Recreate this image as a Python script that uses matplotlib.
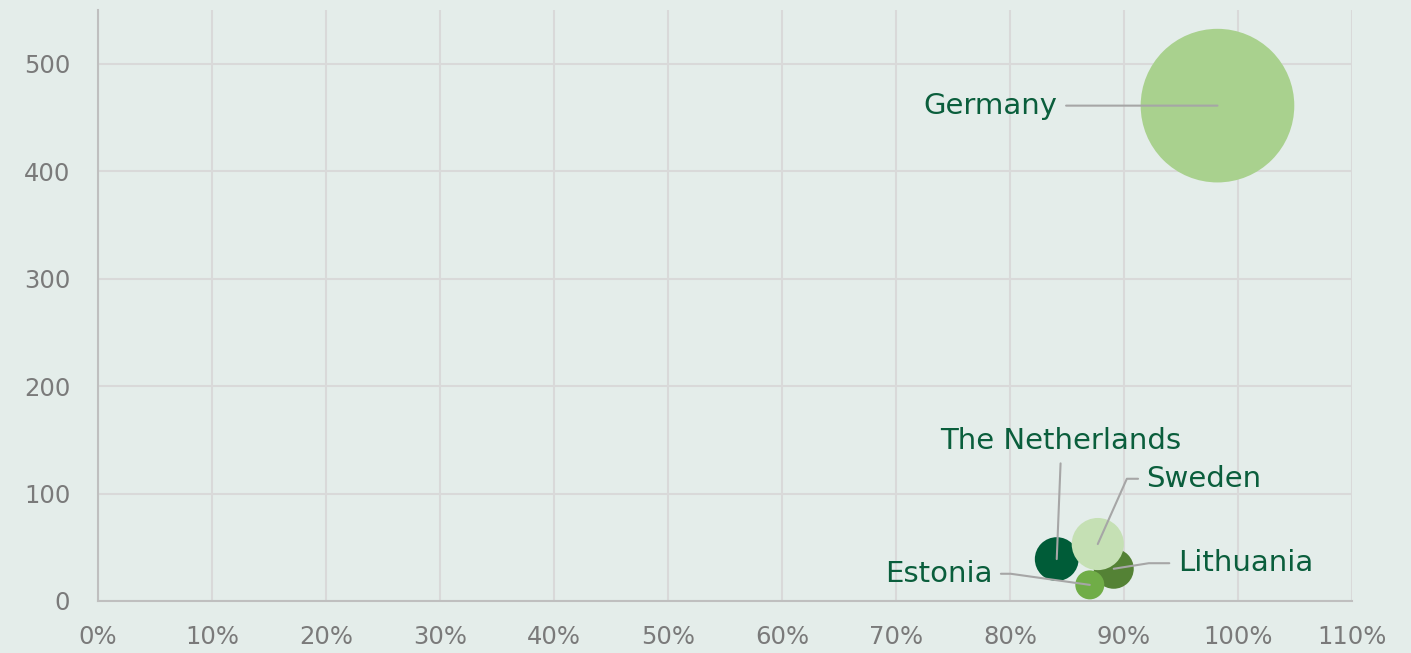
import matplotlib
matplotlib.use("Agg")
import matplotlib.pyplot as plt
from matplotlib.ticker import PercentFormatter

# data (listed in drawing order)
countries = ["Germany", "The Netherlands", "Lithuania", "Estonia", "Sweden"]
share = [98.2, 84.1, 89.1, 87.0, 87.7]        # x, percent
value = [461, 39, 30, 15, 53]                  # y
bubble_size = [5900, 480, 400, 210, 680]       # bubble area (relative)
colors = ["#A9D18E", "#005C38", "#548235", "#70AD47", "#C5E0B4"]

x_ticks = list(range(0, 111, 10))
y_ticks = [0, 100, 200, 300, 400, 500]

bg = "#E4EDEA"
label_col = "#0A5E3C"
tick_col = "#7A7A7A"
line_col = "#A6A6A6"


def main():
    plt.rcParams["font.family"] = ["DejaVu Sans"]
    fig = plt.figure(figsize=(14.11, 6.53), dpi=100, facecolor=bg)
    ax = fig.add_axes([98 / 1411, 52 / 653, (1352 - 98) / 1411, (601 - 10) / 653])
    ax.set_facecolor(bg)

    # area in points^2 ~ (2 * radius_px * 0.72)^2
    s = [b * (2 * 0.72) ** 2 for b in bubble_size]
    ax.scatter(share, value, s=s, c=colors, edgecolors="none", zorder=3)

    ax.set_xlim(0, 110)
    ax.set_ylim(0, 550)
    ax.set_xticks(x_ticks)
    ax.set_yticks(y_ticks)
    ax.xaxis.set_major_formatter(PercentFormatter(decimals=0))
    ax.tick_params(length=0, labelsize=17.5, labelcolor=tick_col)
    ax.tick_params(axis="y", pad=20)
    ax.tick_params(axis="x", pad=17)

    ax.grid(True, color="#D9D9D9", linewidth=1.5, zorder=0)
    ax.set_axisbelow(True)
    for side in ["top", "right"]:
        ax.spines[side].set_visible(False)
    for side in ["left", "bottom"]:
        ax.spines[side].set_color("#BFBFBF")
        ax.spines[side].set_linewidth(1.5)

    # label placement: offset (points), alignment, anchor on text, connection
    layout = {
        "Germany": ((-115, 0), "right", (1, 0.5), "arc3"),
        "The Netherlands": ((3, 85), "center", (0.5, 0), "arc3"),
        "Sweden": ((35, 47), "left", (0, 0.5), "angle,angleA=0,angleB=66,rad=0"),
        "Lithuania": ((46, 4), "left", (0, 0.5), "angle,angleA=0,angleB=9,rad=0"),
        "Estonia": ((-70, 8), "right", (1, 0.5), "angle,angleA=0,angleB=172,rad=0"),
    }
    for name, xv, yv in zip(countries, share, value):
        off, ha, rel, conn = layout[name]
        ax.annotate(name, xy=(xv, yv), xytext=off, textcoords="offset points",
                    ha=ha, va="center", fontsize=21, color=label_col, zorder=5,
                    arrowprops=dict(arrowstyle="-", color=line_col, lw=1.5,
                                    relpos=rel, shrinkA=4, shrinkB=0,
                                    connectionstyle=conn))

    fig.savefig("out.png", dpi=100, facecolor=bg)


if __name__ == "__main__":
    main()
